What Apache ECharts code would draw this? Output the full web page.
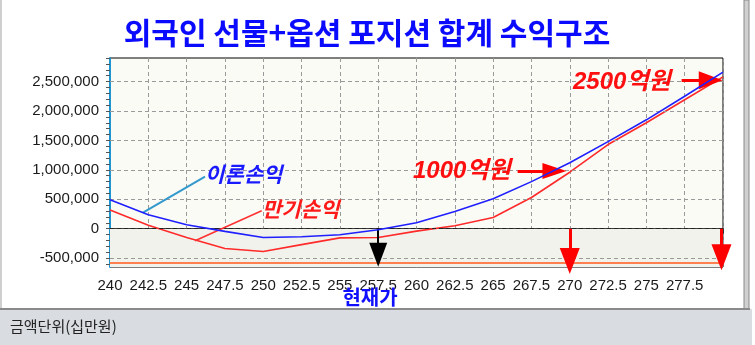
<!DOCTYPE html>
<html><head><meta charset="utf-8">
<script src="https://cdn.jsdelivr.net/npm/echarts@6/dist/echarts.min.js"></script>
<style>html,body{margin:0;padding:0;background:#fff}#c{width:755px;height:345px}</style>
</head><body><div id="c"></div>
<script>
// ---- data ----
const prices      = [240, 242.5, 245, 247.5, 250, 252.5, 255, 257.5, 260, 262.5, 265, 267.5, 270, 272.5, 275, 277.5, 280];
const theoretical = [493000, 238000, 68000, -45000, -150000, -136000, -102000, -17000, 102000, 294000, 510000, 800000, 1120000, 1480000, 1850000, 2250000, 2660000];
const expiry      = [320000, 60000, -150000, -335000, -386000, -270000, -155000, -150000, -40000, 50000, 190000, 530000, 960000, 1430000, 1800000, 2190000, 2580000];
const yLabelValues = [-500000, 0, 500000, 1000000, 1500000, 2000000, 2500000];
const yTickValues = [];
for (let v = -600000; v <= 2900000; v += 100000) yTickValues.push(v);
const currentPrice = 257.5;
const strikeMarks = [270, 279.9];

const KR = '"Noto Sans CJK KR"';
const chart = echarts.init(document.getElementById('c'));

function txt(text, x, y, fill, font, align) {
  return { type: 'text', z: 100, style: { text, x, y, fill, font, align: align || 'left', verticalAlign: 'middle', textAlign: align || 'left', textVerticalAlign: 'middle' } };
}

const option = {
  animation: false,
  backgroundColor: '#ffffff',
  grid: { left: 110, top: 58, right: 32, bottom: 78, show: true, borderColor: '#000', borderWidth: 1, backgroundColor: '#fbfbf6' },
  xAxis: {
    type: 'value', min: 240, max: 280, interval: 2.5,
    axisLine: { show: true, lineStyle: { color: '#000', width: 1 } },
    axisTick: { show: true, length: 5, lineStyle: { color: '#333' } },
    minorTick: { show: true, splitNumber: 5, length: 3, lineStyle: { color: '#333' } },
    axisLabel: { margin: 11, fontSize: 15, color: '#1a1a1a', fontFamily: 'Liberation Sans', showMaxLabel: false,
      formatter: v => (v >= 280 ? '' : String(v)) },
    splitLine: { show: true, lineStyle: { color: '#9a9a9a', type: [4, 3], width: 1 } }
  },
  yAxis: {
    type: 'value', min: -650000, max: 2900000,
    axisLine: { show: true, onZero: false, lineStyle: { color: '#1e96d2', width: 2 } },
    axisTick: { show: true, length: 4, customValues: yTickValues, lineStyle: { color: '#555' } },
    axisLabel: { margin: 11, fontSize: 15, color: '#1a1a1a', fontFamily: 'Liberation Sans', customValues: yLabelValues,
      formatter: v => Number(v).toLocaleString('en-US') },
    splitLine: { show: false }
  },
  series: [
    { type: 'line', data: [], z: 1, silent: true,
      markArea: { silent: true, itemStyle: { color: '#f2f2ec' }, data: [[{ yAxis: -650000 }, { yAxis: 0 }]] },
      markLine: { silent: true, symbol: 'none', label: { show: false },
        lineStyle: { color: '#9a9a9a', type: [4, 3], width: 1 },
        data: yLabelValues.filter(v => v !== 0).map(v => ({ yAxis: v })) } },
    { type: 'line', data: [], z: 2, silent: true,
      markLine: { silent: true, symbol: 'none', label: { show: false },
        lineStyle: { color: '#222', type: [4, 3], width: 1 }, data: [{ yAxis: 0 }] } },
    { type: 'line', data: [], z: 2, silent: true,
      markLine: { silent: true, symbol: 'none', label: { show: false },
        lineStyle: { color: '#ff7f50', type: 'solid', width: 2 }, data: [{ yAxis: -585000 }] } },
    { name: '이론손익', type: 'line', z: 5, symbol: 'none', data: prices.map((p, i) => [p, theoretical[i]]),
      lineStyle: { color: '#1f1fff', width: 1.6 } },
    { name: '만기손익', type: 'line', z: 4, symbol: 'none', data: prices.map((p, i) => [p, expiry[i]]),
      lineStyle: { color: '#ff2a2a', width: 1.6 } },
    // leader lines
    { type: 'line', data: [], z: 6, clip: false, silent: true,
      markLine: { silent: true, symbol: 'none', label: { show: false }, lineStyle: { color: '#3399cc', width: 2, type: 'solid' },
        data: [[{ coord: [242.15, 272000] }, { coord: [246.2, 884000] }]] } },
    { type: 'line', data: [], z: 6, clip: false, silent: true,
      markLine: { silent: true, symbol: 'none', label: { show: false }, lineStyle: { color: '#ff3030', width: 1.5, type: 'solid' },
        data: [[{ coord: [245.55, -204000] }, { coord: [249.9, 306000] }]] } },
    // black current-price arrow
    { type: 'line', data: [], z: 7, clip: false, silent: true,
      markLine: { silent: true, symbol: ['none', 'triangle'], label: { show: false },
        lineStyle: { color: '#000', width: 2, type: 'solid' }, itemStyle: { color: '#000' },
        data: [[{ coord: [currentPrice, 0], symbol: 'none' }, { coord: [currentPrice, -440000], symbol: 'triangle', symbolSize: [18, 24], itemStyle: { color: '#000' } }]] } },
    // red arrows
    { type: 'line', data: [], z: 7, clip: false, silent: true,
      markLine: { silent: true, symbol: ['none', 'triangle'], label: { show: false },
        lineStyle: { color: '#ff0000', width: 3, type: 'solid' }, itemStyle: { color: '#ff0000' },
        data: [
          [{ coord: [strikeMarks[0], 0], symbol: 'none' }, { coord: [strikeMarks[0], -550000], symbol: 'triangle', symbolSize: [20, 26], itemStyle: { color: '#ff0000' } }],
          [{ coord: [strikeMarks[1], 0], symbol: 'none' }, { coord: [strikeMarks[1], -485000], symbol: 'triangle', symbolSize: [20, 26], itemStyle: { color: '#ff0000' } }],
          [{ coord: [266.6, 980000], symbol: 'none' }, { coord: [269.0, 980000], symbol: 'triangle', symbolSize: [16, 24], itemStyle: { color: '#ff0000' } }],
          [{ coord: [277.3, 2520000], symbol: 'none' }, { coord: [279.2, 2520000], symbol: 'triangle', symbolSize: [18, 24], itemStyle: { color: '#ff0000' } }]
        ] } }
  ],
  graphic: [
    { type: 'rect', z: -10, shape: { x: 0, y: 0, width: 2, height: 310 }, style: { fill: '#cfcfcf' } },
    { type: 'rect', z: -10, shape: { x: 744, y: 0, width: 5, height: 310 }, style: { fill: '#d0d0d0', stroke: '#8a8a8a', lineWidth: 1 } },
    { type: 'rect', z: -10, shape: { x: 0, y: 309, width: 752, height: 36 }, style: { fill: '#d9dde1' } },
    { type: 'line', z: -9, shape: { x1: 0, y1: 309, x2: 750, y2: 309 }, style: { stroke: '#8a8a8a', lineWidth: 2 } },
    txt('외국인 선물+옵션 포지션 합계 수익구조', 367, 33, '#0a0aff', 'bold 30px ' + KR, 'center'),
    txt('이론손익', 205, 174, '#1a1aff', 'italic bold 21px ' + KR),
    txt('만기손익', 262, 209, '#ff1a1a', 'italic bold 21px ' + KR),
    txt('1000억원', 413, 171, '#ff1010', 'italic bold 24px "Liberation Sans", ' + KR),
    txt('2500억원', 573, 82, '#ff1010', 'italic bold 24px "Liberation Sans", ' + KR),
    txt('현재가', 370, 297, '#1010ff', 'bold 20px ' + KR, 'center'),
    txt('금액단위(십만원)', 10, 326, '#222', '15px ' + KR)
  ]
};
chart.setOption(option);
</script></body></html>
